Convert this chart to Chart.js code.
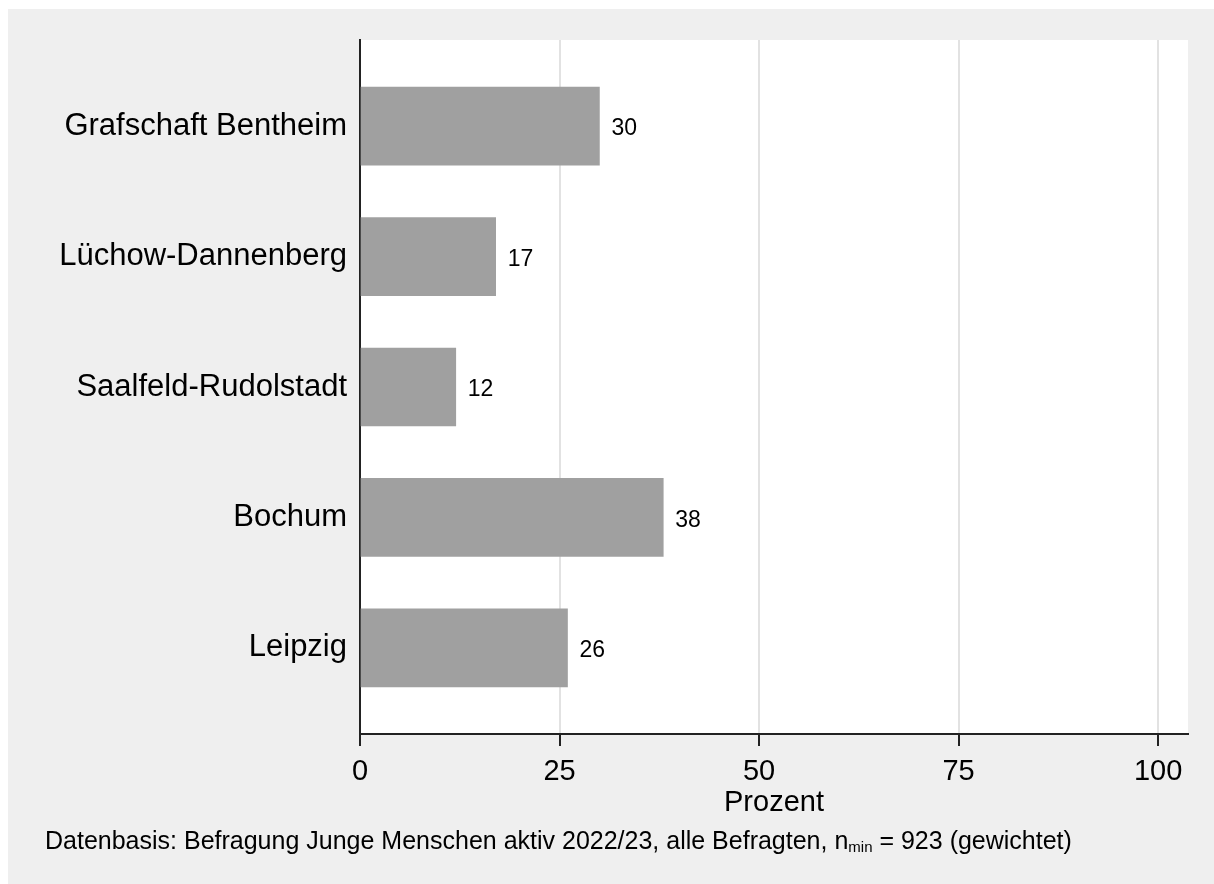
<!DOCTYPE html>
<html>
<head>
<meta charset="utf-8">
<script src="https://cdn.jsdelivr.net/npm/chart.js@4/dist/chart.umd.min.js"></script>
<style>
  html, body { margin: 0; padding: 0; background: #fff; }
  #wrap { width: 1214px; height: 884px; }
</style>
</head>
<body>
<div id="wrap"><canvas id="regionChart"></canvas></div>
<script>
// Daten
const regions = ['Grafschaft Bentheim', 'Lüchow-Dannenberg', 'Saalfeld-Rudolstadt', 'Bochum', 'Leipzig'];
const anteile = [30, 17, 12, 38, 26];
const xTicks = [0, 25, 50, 75, 100];

const FONT = '"Liberation Sans", Arial, sans-serif';

// Hintergrund: grauer Rahmen + weisse Plotfläche
const hintergrund = {
    id: 'hintergrund',
    beforeDraw(chart) {
        const { ctx, chartArea: a } = chart;
        ctx.save();
        ctx.fillStyle = '#ffffff';
        ctx.fillRect(0, 0, chart.width, chart.height);
        ctx.fillStyle = '#efefef';
        ctx.fillRect(8, 9, chart.width - 8, chart.height - 9);
        ctx.fillStyle = '#ffffff';
        ctx.fillRect(a.left, a.top, a.right - a.left, a.bottom - a.top);
        ctx.restore();
    }
};

// Werte neben den Balken + Fussnote
const beschriftung = {
    id: 'beschriftung',
    afterDatasetsDraw(chart) {
        const { ctx } = chart;
        const meta = chart.getDatasetMeta(0);
        ctx.save();
        ctx.fillStyle = '#000';
        ctx.font = '23px ' + FONT;
        ctx.textBaseline = 'middle';
        ctx.textAlign = 'left';
        meta.data.forEach((bar, i) => {
            ctx.fillText(String(anteile[i]), bar.x + 12, bar.y + 3);
        });

        // Fussnote mit Tiefstellung
        let x = 45;
        const y = 842;
        ctx.font = '25px ' + FONT;
        const t1 = 'Datenbasis: Befragung Junge Menschen aktiv 2022/23, alle Befragten, n';
        ctx.fillText(t1, x, y);
        x += ctx.measureText(t1).width;
        ctx.font = '15px ' + FONT;
        ctx.fillText('min', x, y + 6);
        x += ctx.measureText('min').width;
        ctx.font = '25px ' + FONT;
        ctx.fillText(' = 923 (gewichtet)', x, y);
        ctx.restore();
    }
};

new Chart(document.getElementById('regionChart'), {
    type: 'bar',
    data: {
        datasets: [{
            data: anteile.map((v, i) => ({ x: v, y: i })),
            backgroundColor: '#a0a0a0',
            borderWidth: 0,
            barThickness: 78
        }]
    },
    options: {
        indexAxis: 'y',
        responsive: true,
        maintainAspectRatio: false,
        animation: false,
        layout: { padding: { left: 0, top: 40, right: 26, bottom: 62 } },
        plugins: { legend: { display: false }, tooltip: { enabled: false } },
        scales: {
            x: {
                type: 'linear',
                min: 0,
                max: 103.75,
                afterBuildTicks: s => { s.ticks = xTicks.map(v => ({ value: v })); },
                afterFit: s => { s.height = 88; },
                grid: { color: '#e2e2e2', lineWidth: 2, tickColor: '#222', tickLength: 12 },
                border: { color: '#222', width: 2 },
                ticks: { color: '#000', font: { family: FONT, size: 29 }, padding: 9, maxRotation: 0 },
                title: { display: true, text: 'Prozent', color: '#000', font: { family: FONT, size: 29 }, padding: { top: 0, bottom: 2 } }
            },
            y: {
                type: 'linear',
                reverse: true,
                offset: false,
                min: -0.66,
                max: 4.66,
                afterBuildTicks: s => { s.ticks = regions.map((r, i) => ({ value: i })); },
                afterFit: s => { s.width = 360; },
                grid: { display: false, drawTicks: false },
                border: { color: '#222', width: 2 },
                ticks: {
                    color: '#000',
                    font: { family: FONT, size: 31 },
                    padding: 13,
                    callback: v => regions[v]
                }
            }
        }
    },
    plugins: [hintergrund, beschriftung]
});
</script>
</body>
</html>
